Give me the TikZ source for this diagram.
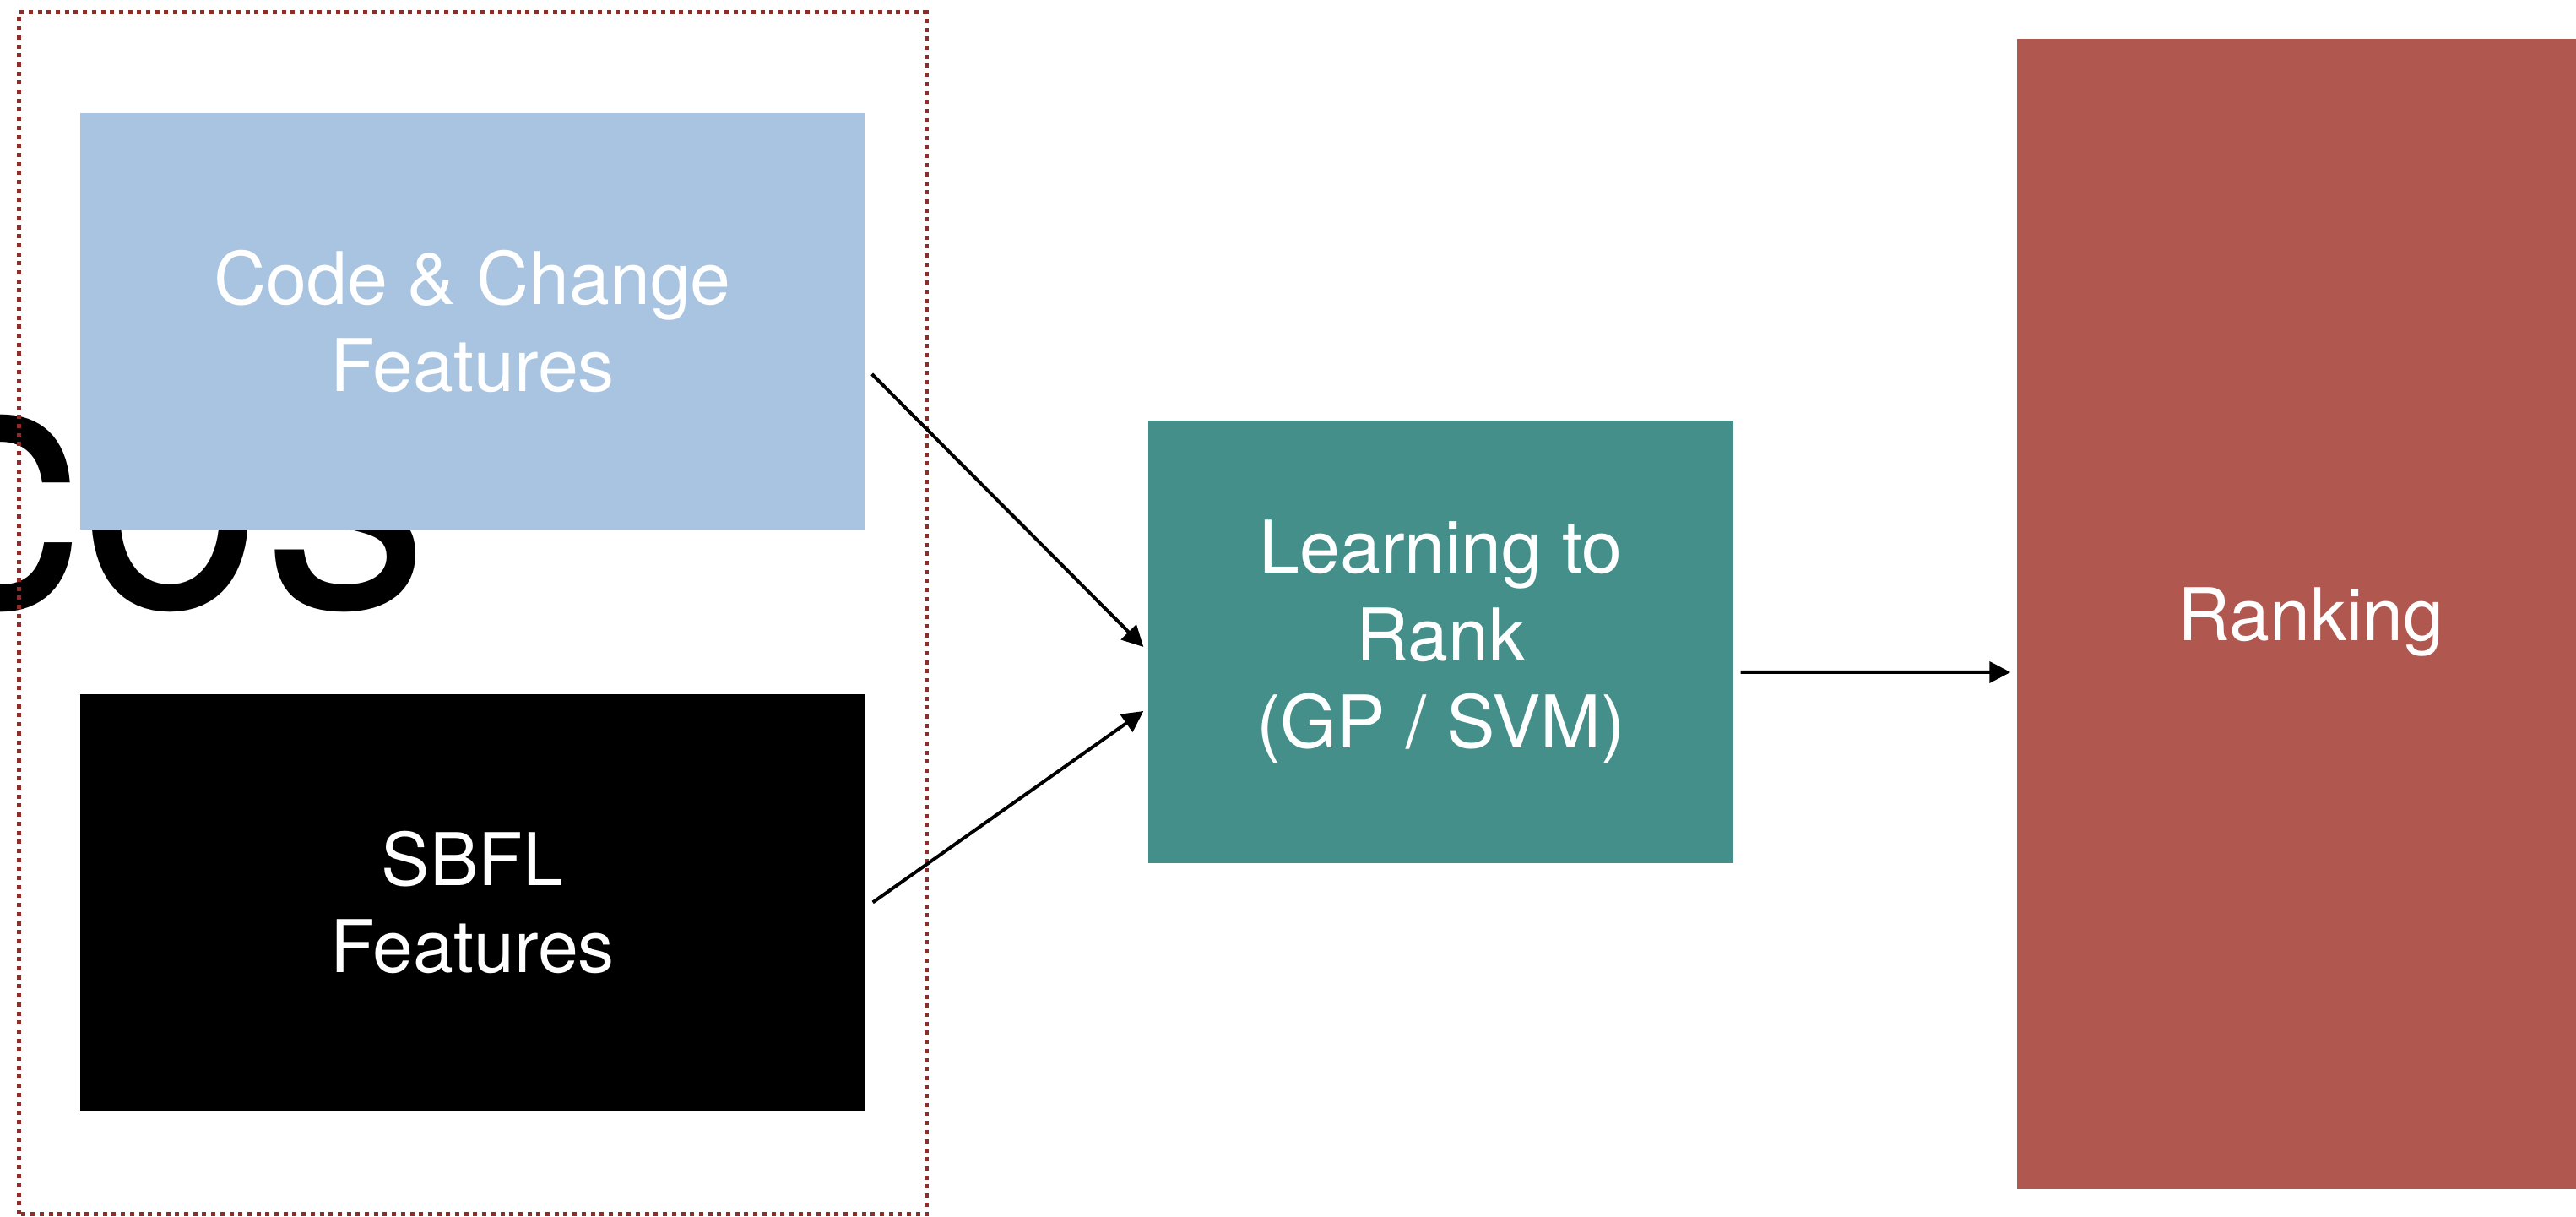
\documentclass[tikz,border=0pt]{standalone}
\usepackage{fontspec}
\setmainfont{TeX Gyre Heros}
\usetikzlibrary{arrows.meta}

\definecolor{featblue}{HTML}{A9C4E0}
\definecolor{ltrteal}{HTML}{458F8A}
\definecolor{rankred}{HTML}{B0574F}
\definecolor{framered}{HTML}{8B2E2A}

\begin{document}
\begin{tikzpicture}[>={Triangle[length=7.1pt, width=7.1pt]},
    blk/.style={rectangle, inner sep=0pt, text=white, align=center,
        font=\fontsize{24.5}{29.4}\selectfont}]

    % 0. Khung trang
    \useasboundingbox (0,0) rectangle (30.51,14.41);
    \clip (0,0) rectangle (30.51,14.41);

    % 1. Chữ lớn phía sau (bị che một phần)
    \node[anchor=base east, inner sep=0pt, xscale=0.93,
        font=\fontsize{120}{120}\selectfont] (word) at (5.09,7.22) {cos};

    % 2. Hai khối đặc trưng
    \node[blk, fill=featblue, minimum width=9.29cm, minimum height=4.93cm] (code)
        at (5.595,10.605) {Code \& Change\\Features};
    \node[blk, fill=black, minimum width=9.29cm, minimum height=4.93cm] (sbfl)
        at (5.595,3.725) {SBFL\\Features};

    % 3. Khối học xếp hạng và kết quả
    \node[blk, fill=ltrteal, minimum width=6.93cm, minimum height=5.24cm] (ltr)
        at (17.065,6.81) {Learning to\\Rank\\(GP / SVM)};
    \node[blk, fill=rankred, minimum width=6.96cm, minimum height=13.62cm,
        text depth=0pt] (rank) at (27.37,7.14) {Ranking};

    % 4. Khung chấm bao quanh các đặc trưng
    \draw[framered, line width=0.05cm, dash pattern=on 0.05cm off 0.057cm]
        (0.23,0.03) rectangle (10.97,14.26);

    % 5. Các mũi tên
    \draw[->, line width=0.04cm] ([shift={(0.08,-0.625)}]code.east) -- ([shift={(-0.05,-0.06)}]ltr.west);
    \draw[->, line width=0.04cm] ([xshift=0.09cm]sbfl.east) -- ([shift={(-0.05,-0.82)}]ltr.west);
    \draw[->, line width=0.04cm] ([shift={(0.08,-0.36)}]ltr.east) -- ([shift={(-0.07,-0.69)}]rank.west);

\end{tikzpicture}
\end{document}
